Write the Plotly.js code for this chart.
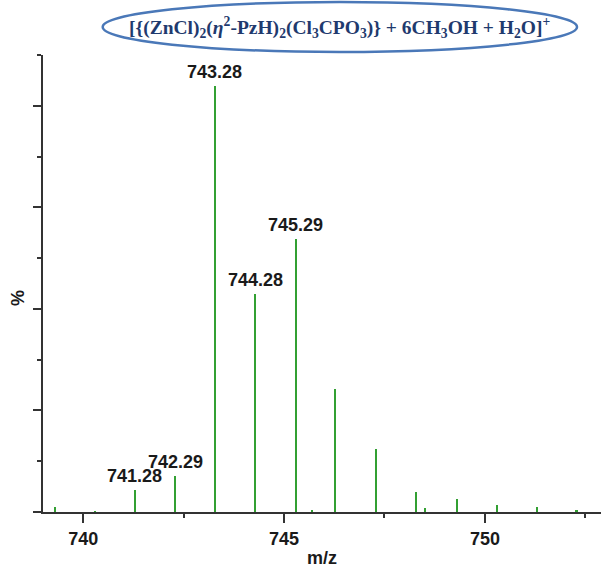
<!DOCTYPE html>
<html>
<head>
<meta charset="utf-8">
<script src="https://cdn.plot.ly/plotly-3.0.1.min.js"></script>
<style>html,body{margin:0;padding:0;background:#fff;}#chart{width:601px;height:569px;}</style>
</head>
<body>
<div id="chart"></div>
<script>
// m/z positions of the peaks and their relative intensities (%)
var mz = [739.31, 740.29, 741.28, 742.29, 743.28, 744.28, 745.29, 745.70, 746.28, 747.28, 748.28, 748.50, 749.30, 750.29, 751.29, 752.28];
var intensity = [1.1, 0.35, 5.2, 8.4, 100, 51.1, 64.1, 0.4, 28.8, 14.8, 4.8, 0.9, 3.1, 1.6, 1.2, 0.5];
// labelled peaks
var labelMz = [741.28, 742.29, 743.28, 744.28, 745.29];
var labelY = [5.2, 8.4, 100, 51.1, 64.1];
var labelText = ["741.28", "742.29", "743.28", "744.28", "745.29"];
var xTickVals = [740, 745, 750];
var xTickText = ["740", "745", "750"];
var titleText = "[{(ZnCl)<sub>2</sub>(<i>η</i><sup>2</sup>-PzH)<sub>2</sub>(Cl<sub>3</sub>CPO<sub>3</sub>)} + 6CH<sub>3</sub>OH + H<sub>2</sub>O]<sup>+</sup>";
var yTitle = "%";

var unit = 11.92; // y tick spacing in %

var trace = {
  type: 'bar',
  x: mz,
  y: intensity,
  width: 0.05,
  marker: {color: '#33a033', line: {width: 0}},
  hoverinfo: 'x+y'
};

var labelFont = {family: 'Liberation Sans, Arial, sans-serif', size: 18, color: '#1a1a1a', weight: 'bold'};

var annotations = labelMz.map(function (x, i) {
  return {
    x: x, y: labelY[i], xref: 'x', yref: 'y',
    text: labelText[i], showarrow: false,
    yanchor: 'bottom', xanchor: 'center', yshift: 2,
    font: labelFont
  };
});
annotations.push({
  x: 0.532, y: 1.061, xref: 'paper', yref: 'paper',
  text: '<b>' + titleText + '</b>', showarrow: false,
  xanchor: 'center', yanchor: 'middle',
  font: {family: 'Liberation Serif, Times New Roman, serif', size: 19.5, color: '#1f3a6e'}
});
annotations.push({
  x: -0.045, y: 0.468, xref: 'paper', yref: 'paper',
  text: yTitle, showarrow: false, textangle: -90,
  xanchor: 'center', yanchor: 'middle',
  font: {family: 'Liberation Sans, Arial, sans-serif', size: 18, color: '#1a1a1a', weight: 'bold'}
});

var layout = {
  width: 601, height: 569,
  margin: {l: 43, r: 0, t: 55, b: 57},
  paper_bgcolor: '#ffffff', plot_bgcolor: '#ffffff',
  showlegend: false,
  bargap: 0,
  xaxis: {
    range: [739.0, 752.89],
    tickvals: xTickVals, ticktext: xTickText,
    ticks: 'outside', ticklen: 9, tickwidth: 2, tickcolor: '#333',
    minor: {dtick: 2.5, tick0: 740, ticks: 'outside', ticklen: 4, tickwidth: 2, tickcolor: '#333', showgrid: false},
    showline: true, linecolor: '#333', linewidth: 2,
    showgrid: false, zeroline: false,
    tickfont: {family: 'Liberation Sans, Arial, sans-serif', size: 18, color: '#1a1a1a', weight: 'bold'},
    title: {text: 'm/z', standoff: 4, font: {family: 'Liberation Sans, Arial, sans-serif', size: 18, color: '#1a1a1a', weight: 'bold'}}
  },
  yaxis: {
    range: [0, 9 * unit],
    tick0: 0, dtick: 2 * unit,
    ticks: 'outside', ticklen: 8, tickwidth: 2, tickcolor: '#333',
    minor: {dtick: unit, tick0: 0, ticks: 'outside', ticklen: 4, tickwidth: 2, tickcolor: '#333', showgrid: false},
    showticklabels: false,
    showline: true, linecolor: '#333', linewidth: 2,
    showgrid: false, zeroline: false
  },
  annotations: annotations,
  shapes: [{
    type: 'circle', xref: 'paper', yref: 'paper',
    x0: 0.107, x1: 0.957, y0: 1.0066, y1: 1.116,
    line: {color: '#4a78b8', width: 2.5}, fillcolor: 'rgba(0,0,0,0)'
  }]
};

Plotly.newPlot('chart', [trace], layout, {displayModeBar: false, staticPlot: true});
</script>
</body>
</html>
